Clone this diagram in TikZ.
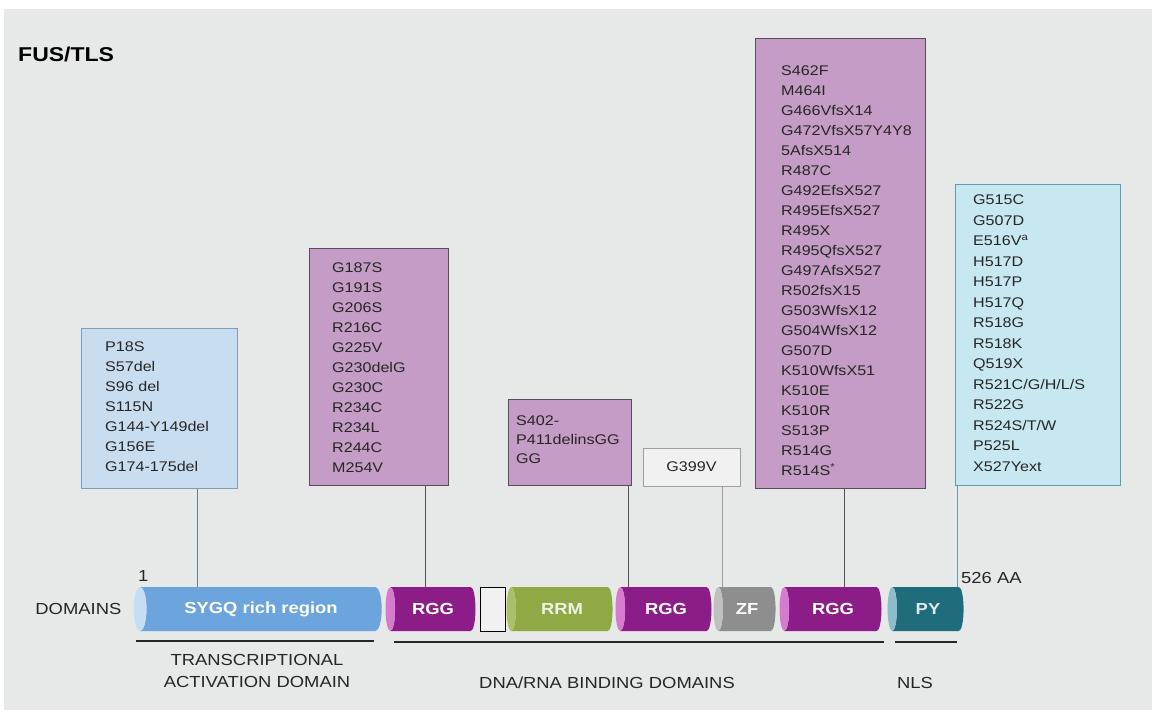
\documentclass[tikz,border=0pt]{standalone}
\usepackage{fontspec}
\setmainfont{Liberation Sans}[FakeStretch=1.15]
\usetikzlibrary{positioning,shapes.geometric}

\definecolor{panelgray}{HTML}{E7E8E8}
\definecolor{txtdark}{HTML}{262626}
\definecolor{boxblue}{HTML}{C9DDF1}
\definecolor{boxblueline}{HTML}{7E9DBD}
\definecolor{boxpurple}{HTML}{C59CC6}
\definecolor{boxpurpleline}{HTML}{5A4A5E}
\definecolor{boxcyan}{HTML}{C8E8F1}
\definecolor{boxcyanline}{HTML}{5D9DB0}
\definecolor{boxgray}{HTML}{F1F1F1}
\definecolor{boxgrayline}{HTML}{9E9E9E}
\definecolor{sygqbody}{HTML}{6CA5DD}
\definecolor{sygqend}{HTML}{C6DEF4}
\definecolor{rggbody}{HTML}{8C1D88}
\definecolor{rggend}{HTML}{D67CCF}
\definecolor{rrmbody}{HTML}{8FAA45}
\definecolor{rrmend}{HTML}{A9C066}
\definecolor{zfbody}{HTML}{8E8E8E}
\definecolor{zfend}{HTML}{C0C0C0}
\definecolor{pybody}{HTML}{1F6C7C}
\definecolor{pyend}{HTML}{8DBCCA}

\tikzset{
  mutbox/.style={draw, line width=0.9pt, inner sep=0pt, anchor=north west},
  muttext/.style={anchor=north west, inner sep=0pt, align=left, text=txtdark,
    font=\fontsize{14}{#1}\selectfont},
  % cylinder sizes: minimum height = length along the axis, minimum width = diameter
  domcyl/.style={cylinder, shape border rotate=180, aspect=0.85,
    minimum width=44pt, minimum height=#1, inner sep=0pt, draw=none, cylinder uses custom fill,
    text=white, font=\bfseries\fontsize{16}{16}\selectfont},
  stem/.style={line width=0.9pt},
  spanline/.style={line width=1.5pt, draw=txtdark},
  lbl/.style={text=txtdark, font=\fontsize{16}{22}\selectfont, inner sep=0pt}
}

\begin{document}
\begin{tikzpicture}[x=1pt, y=-1pt]
  \useasboundingbox (0,0) rectangle (1155,713);
  \fill[panelgray] (4,9) rectangle (1152,710);

  \node[anchor=west, inner sep=0pt, text=black, font=\bfseries\fontsize{20}{20}\selectfont] (title) at (18,54) {FUS/TLS};

  % domain bar
  \node[domcyl=248pt, cylinder body fill=sygqbody, cylinder end fill=sygqend] (sygq) at (261,609) {SYGQ rich region};
  \node[domcyl=90pt, cylinder body fill=rggbody, cylinder end fill=rggend] (rggA) at (433,609) {RGG};
  \node[domcyl=25pt, draw=black, line width=1pt, cylinder body fill=boxgray, cylinder end fill=boxgray] (hinge) at (493.5,609) {};
  \node[domcyl=106pt, cylinder body fill=rrmbody, cylinder end fill=rrmend, text=white!85!rrmbody] (rrm) at (562,609) {RRM};
  \node[domcyl=96pt, cylinder body fill=rggbody, cylinder end fill=rggend] (rggB) at (666,609) {RGG};
  \node[domcyl=62pt, cylinder body fill=zfbody, cylinder end fill=zfend] (zf) at (747,609) {ZF};
  \node[domcyl=102pt, cylinder body fill=rggbody, cylinder end fill=rggend] (rggC) at (833,609) {RGG};
  \node[domcyl=76pt, cylinder body fill=pybody, cylinder end fill=pyend, text=white!85!pybody] (py) at (928,609) {PY};

  \node[lbl, left=12pt of sygq] (domlbl) {DOMAINS};
  \node[lbl, anchor=base west] (first) at (138,581) {1};
  \node[lbl, anchor=west] (last) at (961,578) {526 AA};

  % region spans
  \draw[spanline] (136,641) -- (374,641);
  \draw[spanline] (394,642) -- (884,642);
  \draw[spanline] (895,642) -- (957,642);
  \node[lbl, align=center] (tad) at (257,671) {TRANSCRIPTIONAL\\ACTIVATION DOMAIN};
  \node[lbl] (dbd) at (607,683) {DNA/RNA BINDING DOMAINS};
  \node[lbl] (nls) at (915,683) {NLS};

  % mutation boxes
  \node[mutbox, draw=boxblueline, fill=boxblue, minimum width=156pt, minimum height=160pt] (mutA) at (81,328) {};
  \node[muttext=20pt] (txtA) at (105,342) {P18S\\S57del\\S96 del\\S115N\\G144-Y149del\\G156E\\G174-175del};

  \node[mutbox, draw=boxpurpleline, fill=boxpurple, minimum width=139pt, minimum height=237pt] (mutB) at (309,248) {};
  \node[muttext=20pt] (txtB) at (332,263) {G187S\\G191S\\G206S\\R216C\\G225V\\G230delG\\G230C\\R234C\\R234L\\R244C\\M254V};

  \node[mutbox, draw=boxpurpleline, fill=boxpurple, minimum width=123pt, minimum height=86pt] (mutC) at (508,399) {};
  \node[muttext=19pt] (txtC) at (516,416) {S402-\\P411delinsGG\\GG};

  \node[mutbox, draw=boxgrayline, fill=boxgray, minimum width=97pt, minimum height=38pt, anchor=center, text=txtdark, font=\fontsize{14}{14}\selectfont] (mutD) at (691.5,467) {G399V};

  \node[mutbox, draw=boxpurpleline, fill=boxpurple, minimum width=170pt, minimum height=450pt] (mutE) at (755,38) {};
  \node[muttext=20pt] (txtE) at (781,66) {S462F\\M464I\\G466VfsX14\\G472VfsX57Y4Y8\\5AfsX514\\R487C\\G492EfsX527\\R495EfsX527\\R495X\\R495QfsX527\\G497AfsX527\\R502fsX15\\G503WfsX12\\G504WfsX12\\G507D\\K510WfsX51\\K510E\\K510R\\S513P\\R514G\\R514S\textsuperscript{*}};

  \node[mutbox, draw=boxcyanline, fill=boxcyan, minimum width=165pt, minimum height=301pt] (mutF) at (955,184) {};
  \node[muttext=20.5pt] (txtF) at (973,195) {G515C\\G507D\\E516V\textsuperscript{a}\\H517D\\H517P\\H517Q\\R518G\\R518K\\Q519X\\R521C/G/H/L/S\\R522G\\R524S/T/W\\P525L\\X527Yext};

  % stems
  \coordinate (pA) at (197,0);
  \coordinate (pB) at (425,0);
  \coordinate (pC) at (628,0);
  \coordinate (pD) at (722,0);
  \coordinate (pE) at (844,0);
  \coordinate (pF) at (957,0);
  \draw[stem, draw=boxblueline!80!black] (mutA.south -| pA) -- (sygq.north -| pA);
  \draw[stem, draw=boxpurpleline] (mutB.south -| pB) -- (rggA.north -| pB);
  \draw[stem, draw=boxpurpleline] (mutC.south -| pC) -- (rggB.north -| pC);
  \draw[stem, draw=boxgrayline] (mutD.south -| pD) -- (zf.north -| pD);
  \draw[stem, draw=boxpurpleline] (mutE.south -| pE) -- (rggC.north -| pE);
  \draw[stem, draw=boxcyanline] (mutF.south -| pF) -- (py.north -| pF);
\end{tikzpicture}
\end{document}
